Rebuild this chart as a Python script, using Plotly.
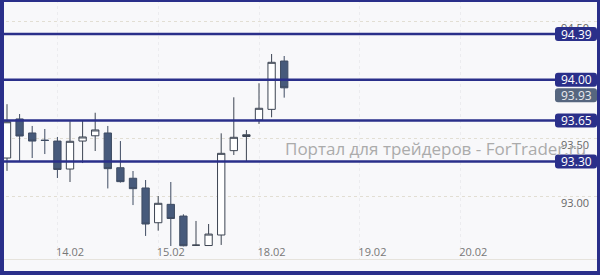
import plotly.graph_objects as go

# ---- data (3-hour candles, weekend skipped) ----
times = ["13.02 09:00", "13.02 12:00", "13.02 15:00", "13.02 18:00", "13.02 21:00",
         "14.02 00:00", "14.02 03:00", "14.02 06:00", "14.02 09:00", "14.02 12:00",
         "14.02 15:00", "14.02 18:00", "14.02 21:00", "15.02 00:00", "15.02 03:00",
         "15.02 06:00", "15.02 09:00", "15.02 12:00", "15.02 15:00", "15.02 18:00",
         "15.02 21:00", "18.02 00:00", "18.02 03:00"]
opens = [93.33, 93.664, 93.544, 93.483, 93.475, 93.236, 93.475, 93.52, 93.544, 93.247,
         93.157, 93.074, 92.777, 92.934, 92.834, 92.585, 92.582, 92.672, 93.393, 93.514,
         93.655, 93.746, 94.159]
highs = [93.79, 93.706, 93.604, 93.578, 93.51, 93.644, 93.646, 93.717, 93.604, 93.475,
         93.219, 93.142, 93.005, 93.125, 92.849, 92.792, 92.766, 93.541, 93.849, 93.569,
         93.969, 94.219, 94.202]
lows = [93.22, 93.296, 93.33, 93.364, 93.159, 93.125, 93.287, 93.39, 93.07, 93.12,
        92.928, 92.664, 92.709, 92.578, 92.575, 92.58, 92.58, 92.587, 93.356, 93.299,
        93.621, 93.678, 93.846]
closes = [93.64, 93.518, 93.475, 93.48, 93.232, 93.473, 93.51, 93.57, 93.239, 93.128,
          93.068, 92.766, 92.943, 92.813, 92.58, 92.585, 92.68, 93.37, 93.507, 93.529,
          93.755, 94.148, 93.93]

levels = [94.39, 94.00, 93.65, 93.30]
last_price = 93.93
day_labels = ["14.02", "15.02", "18.02", "19.02", "20.02"]
y_ticks = [93.00, 93.50, 94.50]
watermark = "Портал для трейдеров - ForTrader.ru"

# ---- styling ----
NAVY = "#2a2f8a"
BG = "#f8f8fa"
DARK = "#475a7b"
LEVEL_GREY = "#56667f"

x = list(range(len(times)))
candles_per_day = 8
first_day_idx = times.index("14.02 00:00")
tick_idx = [first_day_idx + candles_per_day * k for k in range(len(day_labels))]
grid_idx = [t - 1 for t in tick_idx] + [tick_idx[-1] - 1 + candles_per_day]

fig = go.Figure()
fig.add_trace(go.Candlestick(
    x=x, open=opens, high=highs, low=lows, close=closes,
    increasing=dict(fillcolor="#ffffff", line=dict(color="#3c4452", width=1)),
    decreasing=dict(fillcolor=DARK, line=dict(color="#3f4c63", width=1)),
    whiskerwidth=0, showlegend=False, hoverinfo="skip",
))

shapes = []
annotations = []
# level lines
for lv in levels:
    shapes.append(dict(type="line", xref="paper", yref="y", x0=0, x1=555 / 600,
                       y0=lv, y1=lv, line=dict(color=NAVY, width=2.5), layer="above"))


def rounded_box(yanchor, ytop, ybot, color):
    x0, x1, r = -45, -3, 3
    p = (f"M {x0 + r},{ytop} L {x1 - r},{ytop} Q {x1},{ytop} {x1},{ytop - r} "
         f"L {x1},{ybot + r} Q {x1},{ybot} {x1 - r},{ybot} L {x0 + r},{ybot} "
         f"Q {x0},{ybot} {x0},{ybot + r} L {x0},{ytop - r} Q {x0},{ytop} {x0 + r},{ytop} Z")
    return dict(type="path", xref="paper", yref="y", xsizemode="pixel", ysizemode="pixel",
                xanchor=1, yanchor=yanchor, path=p, fillcolor=color,
                line=dict(width=0), layer="above")


for lv in levels:
    shapes.append(rounded_box(lv, 7, -7, NAVY))
    annotations.append(dict(x=576 / 600, xref="paper", y=lv, yref="y", text=f"{lv:.2f}",
                            showarrow=False, xanchor="center", yanchor="middle",
                            font=dict(family="Open Sans", size=12, color="#ffffff")))
# last price box (shifted below to avoid overlap)
shapes.append(rounded_box(last_price, -0.5, -14.5, LEVEL_GREY))
annotations.append(dict(x=576 / 600, xref="paper", y=last_price, yref="y",
                        text=f"{last_price:.2f}", showarrow=False, xanchor="center",
                        yanchor="middle", yshift=-7.5,
                        font=dict(family="Open Sans", size=12, color="#e8eaee")))

# watermark
annotations.append(dict(x=283 / 600, xref="paper", y=1 - 148 / 275, yref="paper",
                        text=watermark, showarrow=False, xanchor="left", yanchor="middle",
                        font=dict(family="Open Sans", size=17, color="#ababab")))

# outer frame
shapes += [
    dict(type="rect", xref="paper", yref="paper", x0=0, x1=4 / 600, y0=0, y1=1,
         fillcolor=NAVY, line=dict(width=0), layer="above"),
    dict(type="rect", xref="paper", yref="paper", x0=597 / 600, x1=1, y0=0, y1=1,
         fillcolor=NAVY, line=dict(width=0), layer="above"),
    dict(type="rect", xref="paper", yref="paper", x0=0, x1=1, y0=1 - 2 / 275, y1=1,
         fillcolor=NAVY, line=dict(width=0), layer="above"),
    dict(type="rect", xref="paper", yref="paper", x0=0, x1=1, y0=0, y1=4 / 275,
         fillcolor=NAVY, line=dict(width=0), layer="above"),
]

fig.update_layout(
    width=600, height=275,
    margin=dict(l=0, r=0, t=0, b=0),
    paper_bgcolor=BG, plot_bgcolor=BG,
    boxgap=0.17,
    shapes=shapes, annotations=annotations,
    showlegend=False,
    xaxis=dict(
        range=[-0.5556, 47.063], domain=[0, 1],
        tickmode="array", tickvals=tick_idx, ticktext=day_labels,
        ticklabelposition="inside", ticks="", ticklabelstandoff=0,
        tickfont=dict(family="Open Sans", size=11, color="#777777"),
        showgrid=False, zeroline=False,
        showline=True, linecolor="#e6e3dc", linewidth=1,
        minor=dict(tickmode="array", tickvals=grid_idx, showgrid=True,
                   gridcolor="#ececef", griddash="dot", gridwidth=1, ticks=""),
        rangeslider=dict(visible=False), fixedrange=True,
    ),
    yaxis=dict(
        range=[92.4669, 94.6806], domain=[16 / 275, 1],
        side="right", ticklabelposition="inside",
        tickmode="array", tickvals=y_ticks, tickformat=".2f",
        ticklabelstandoff=8, ticklabelshift=7,
        tickfont=dict(family="Open Sans", size=11, color="#666666"),
        showgrid=True, gridcolor="#e2ded3", griddash="3px,3px", gridwidth=1,
        zeroline=False, showline=False, ticks="", fixedrange=True,
    ),
)

fig.write_html("out.html")
